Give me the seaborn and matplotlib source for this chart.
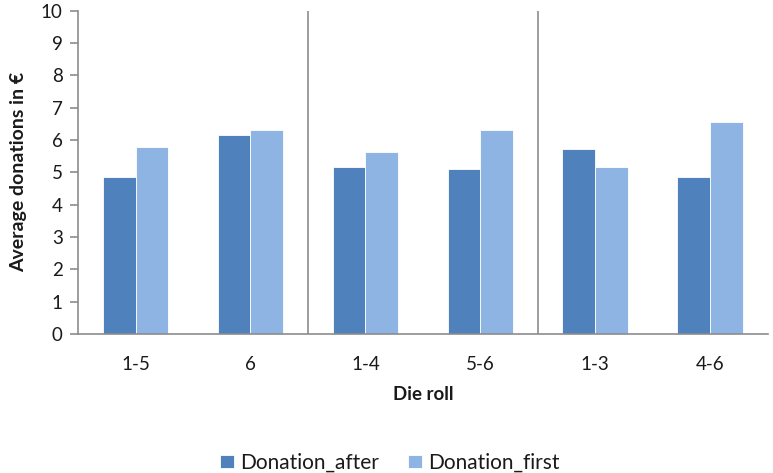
import matplotlib
matplotlib.use("Agg")
import matplotlib.pyplot as plt
import seaborn as sns
import pandas as pd

die_roll = ["1-5", "6", "1-4", "5-6", "1-3", "4-6"]
donation_after = [4.86, 6.15, 5.17, 5.12, 5.74, 4.86]
donation_first = [5.80, 6.30, 5.63, 6.30, 5.18, 6.56]
series_names = ["Donation_after", "Donation_first"]
colors = ["#4F81BD", "#8EB4E3"]
y_ticks = list(range(0, 11))

df = pd.DataFrame({
    "Die roll": die_roll * 2,
    "value": donation_after + donation_first,
    "series": [series_names[0]] * len(die_roll) + [series_names[1]] * len(die_roll),
})

sns.set_theme(style="white")
plt.rcParams["font.family"] = ["Lato", "DejaVu Sans"]

fig = plt.figure(figsize=(7.73, 4.73), dpi=100)
ax = fig.add_axes([0.101, 0.294, 0.892, 0.683])

sns.barplot(data=df, x="Die roll", y="value", hue="series", order=die_roll,
            hue_order=series_names, palette=colors, width=0.57, saturation=1,
            edgecolor="white", linewidth=0.6, ax=ax)

fs = 13.5
text_color = "#1A1A1A"

ax.set_ylim(0, 10)
ax.set_xlim(-0.5, len(die_roll) - 0.5)
ax.set_yticks(y_ticks)
ax.set_yticklabels([str(t) for t in y_ticks], fontsize=fs, color=text_color)
ax.set_xticks(range(len(die_roll)))
ax.set_xticklabels(die_roll, fontsize=fs, color=text_color)

for side in ["top", "right"]:
    ax.spines[side].set_visible(False)
for side in ["left", "bottom"]:
    ax.spines[side].set_color("#8C8C8C")
    ax.spines[side].set_linewidth(1.2)

ax.tick_params(axis="y", left=True, length=6, width=1.2, color="#8C8C8C", pad=5)
ax.tick_params(axis="x", bottom=False, pad=10)

# group separators between the die-roll splits
for xpos in [1.5, 3.5]:
    ax.axvline(xpos, ymin=0, ymax=1, color="#8C8C8C", linewidth=1.2)

ax.set_ylabel("Average donations in €", fontsize=14, fontweight="bold",
              color=text_color, labelpad=10)
ax.set_xlabel("Die roll", fontsize=fs, fontweight="bold", color=text_color,
              labelpad=9)

ax.legend(loc="upper center", bbox_to_anchor=(0.452, -0.31), ncol=2, frameon=False,
          fontsize=15, handlelength=0.65, handleheight=0.65, handletextpad=0.3,
          columnspacing=1.4, labelcolor=text_color)

fig.savefig("out.png", dpi=100)
